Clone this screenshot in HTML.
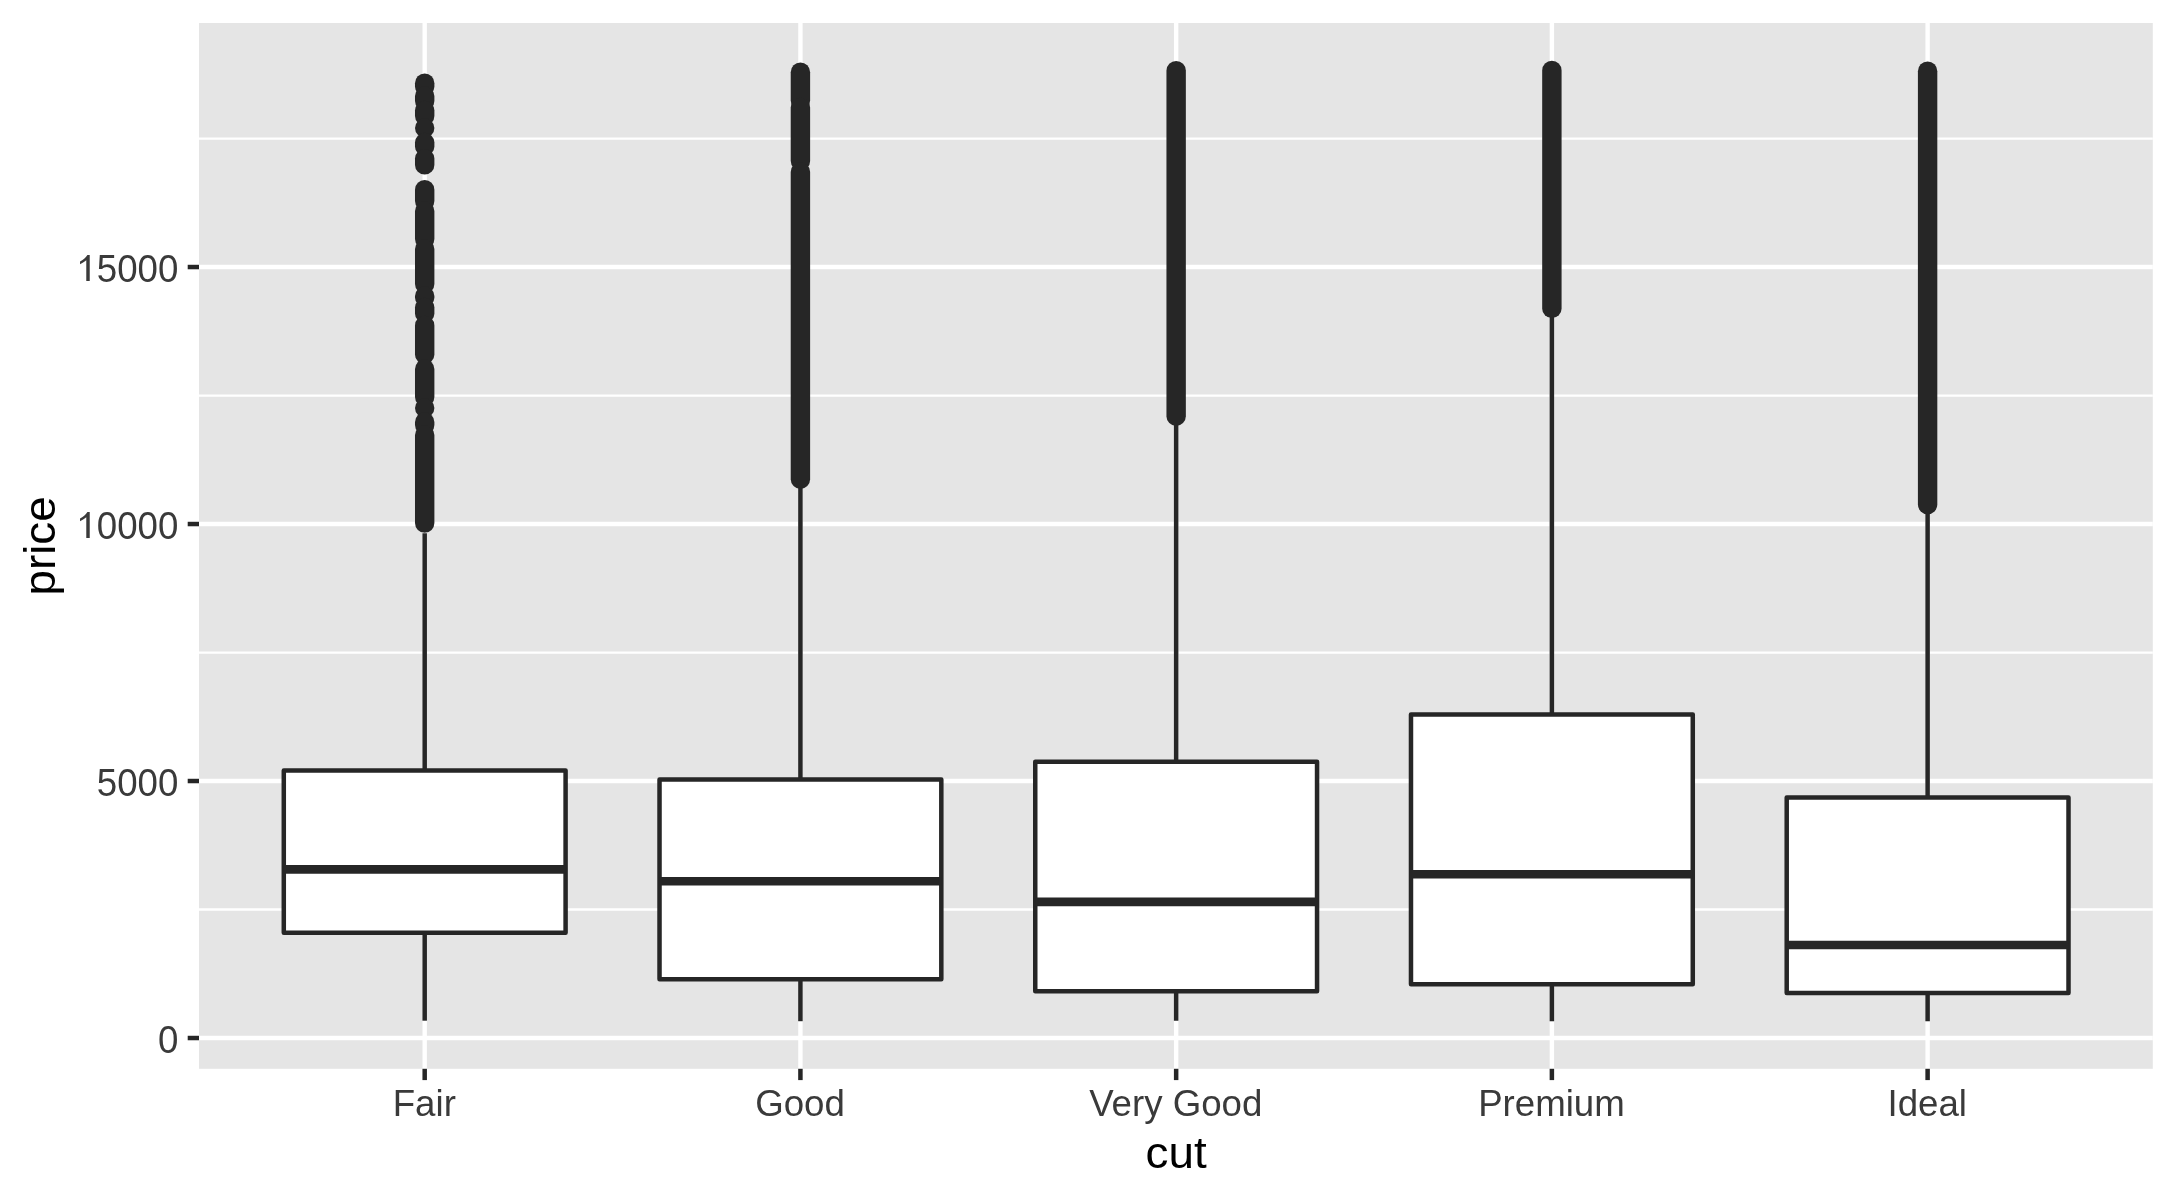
<!DOCTYPE html>
<html><head><meta charset="utf-8"><title>price by cut</title>
<style>
html,body{margin:0;padding:0;background:#fff;width:2175px;height:1200px;overflow:hidden}
svg{display:block;will-change:transform}
text{font-family:"Liberation Sans",sans-serif}
</style></head><body>
<svg width="2175" height="1200" viewBox="0 0 2175 1200">
<rect width="2175" height="1200" fill="#fff"/>
<rect x="199" y="23" width="1953.8" height="1045.8" fill="#E5E5E5"/>
<line x1="199" x2="2152.8" y1="909.52" y2="909.52" stroke="#fff" stroke-width="2.3"/>
<line x1="199" x2="2152.8" y1="652.53" y2="652.53" stroke="#fff" stroke-width="2.3"/>
<line x1="199" x2="2152.8" y1="395.53" y2="395.53" stroke="#fff" stroke-width="2.3"/>
<line x1="199" x2="2152.8" y1="138.54" y2="138.54" stroke="#fff" stroke-width="2.3"/>
<line x1="199" x2="2152.8" y1="1038.02" y2="1038.02" stroke="#fff" stroke-width="4.4"/>
<line x1="199" x2="2152.8" y1="781.02" y2="781.02" stroke="#fff" stroke-width="4.4"/>
<line x1="199" x2="2152.8" y1="524.03" y2="524.03" stroke="#fff" stroke-width="4.4"/>
<line x1="199" x2="2152.8" y1="267.03" y2="267.03" stroke="#fff" stroke-width="4.4"/>
<line x1="424.69" x2="424.69" y1="23" y2="1068.8" stroke="#fff" stroke-width="4.4"/>
<line x1="800.42" x2="800.42" y1="23" y2="1068.8" stroke="#fff" stroke-width="4.4"/>
<line x1="1176.15" x2="1176.15" y1="23" y2="1068.8" stroke="#fff" stroke-width="4.4"/>
<line x1="1551.88" x2="1551.88" y1="23" y2="1068.8" stroke="#fff" stroke-width="4.4"/>
<line x1="1927.61" x2="1927.61" y1="23" y2="1068.8" stroke="#fff" stroke-width="4.4"/>
<line x1="424.69" x2="424.69" y1="770.46" y2="533.13" stroke="#262626" stroke-width="4.5"/>
<line x1="424.69" x2="424.69" y1="932.64" y2="1020.7" stroke="#262626" stroke-width="4.5"/>
<rect x="283.79" y="770.46" width="281.8" height="162.18" fill="#fff" stroke="#262626" stroke-width="4.5" stroke-linejoin="round"/>
<line x1="283.79" x2="565.59" y1="869.33" y2="869.33" stroke="#262626" stroke-width="8.6"/>
<line x1="424.69" x2="424.69" y1="83.2" y2="86.5" stroke="#262626" stroke-width="19.4" stroke-linecap="round"/>
<line x1="424.69" x2="424.69" y1="96" y2="101" stroke="#262626" stroke-width="19.4" stroke-linecap="round"/>
<line x1="424.69" x2="424.69" y1="110.5" y2="116" stroke="#262626" stroke-width="19.4" stroke-linecap="round"/>
<circle cx="424.69" cy="128" r="9.7" fill="#262626"/>
<line x1="424.69" x2="424.69" y1="142.5" y2="146.5" stroke="#262626" stroke-width="19.4" stroke-linecap="round"/>
<line x1="424.69" x2="424.69" y1="158.6" y2="164.9" stroke="#262626" stroke-width="19.4" stroke-linecap="round"/>
<line x1="424.69" x2="424.69" y1="189.7" y2="201" stroke="#262626" stroke-width="19.4" stroke-linecap="round"/>
<line x1="424.69" x2="424.69" y1="211" y2="239" stroke="#262626" stroke-width="19.4" stroke-linecap="round"/>
<line x1="424.69" x2="424.69" y1="249" y2="284" stroke="#262626" stroke-width="19.4" stroke-linecap="round"/>
<line x1="424.69" x2="424.69" y1="296" y2="297.5" stroke="#262626" stroke-width="19.4" stroke-linecap="round"/>
<line x1="424.69" x2="424.69" y1="307.5" y2="313.4" stroke="#262626" stroke-width="19.4" stroke-linecap="round"/>
<line x1="424.69" x2="424.69" y1="325.4" y2="354.5" stroke="#262626" stroke-width="19.4" stroke-linecap="round"/>
<line x1="424.69" x2="424.69" y1="369" y2="397" stroke="#262626" stroke-width="19.4" stroke-linecap="round"/>
<circle cx="424.69" cy="408" r="9.7" fill="#262626"/>
<line x1="424.69" x2="424.69" y1="422" y2="425" stroke="#262626" stroke-width="19.4" stroke-linecap="round"/>
<line x1="424.69" x2="424.69" y1="435" y2="523.1" stroke="#262626" stroke-width="19.4" stroke-linecap="round"/>
<line x1="800.42" x2="800.42" y1="779.59" y2="480.29" stroke="#262626" stroke-width="4.5"/>
<line x1="800.42" x2="800.42" y1="979.17" y2="1021.21" stroke="#262626" stroke-width="4.5"/>
<rect x="659.52" y="779.59" width="281.8" height="199.58" fill="#fff" stroke="#262626" stroke-width="4.5" stroke-linejoin="round"/>
<line x1="659.52" x2="941.32" y1="881.23" y2="881.23" stroke="#262626" stroke-width="8.6"/>
<line x1="800.42" x2="800.42" y1="72.2" y2="100.5" stroke="#262626" stroke-width="19.4" stroke-linecap="round"/>
<line x1="800.42" x2="800.42" y1="107.5" y2="160.9" stroke="#262626" stroke-width="19.4" stroke-linecap="round"/>
<line x1="800.42" x2="800.42" y1="171.9" y2="479.2" stroke="#262626" stroke-width="19.4" stroke-linecap="round"/>
<line x1="1176.15" x2="1176.15" y1="761.87" y2="418.35" stroke="#262626" stroke-width="4.5"/>
<line x1="1176.15" x2="1176.15" y1="991.14" y2="1020.75" stroke="#262626" stroke-width="4.5"/>
<rect x="1035.25" y="761.87" width="281.8" height="229.28" fill="#fff" stroke="#262626" stroke-width="4.5" stroke-linejoin="round"/>
<line x1="1035.25" x2="1317.05" y1="901.92" y2="901.92" stroke="#262626" stroke-width="8.6"/>
<line x1="1176.15" x2="1176.15" y1="70.6" y2="416.2" stroke="#262626" stroke-width="19.4" stroke-linecap="round"/>
<line x1="1551.88" x2="1551.88" y1="714.41" y2="309.8" stroke="#262626" stroke-width="4.5"/>
<line x1="1551.88" x2="1551.88" y1="984.26" y2="1021.26" stroke="#262626" stroke-width="4.5"/>
<rect x="1410.98" y="714.41" width="281.8" height="269.84" fill="#fff" stroke="#262626" stroke-width="4.5" stroke-linejoin="round"/>
<line x1="1410.98" x2="1692.78" y1="874.31" y2="874.31" stroke="#262626" stroke-width="8.6"/>
<line x1="1551.88" x2="1551.88" y1="70.4" y2="308.4" stroke="#262626" stroke-width="19.4" stroke-linecap="round"/>
<line x1="1927.61" x2="1927.61" y1="797.55" y2="504.81" stroke="#262626" stroke-width="4.5"/>
<line x1="1927.61" x2="1927.61" y1="992.89" y2="1021.26" stroke="#262626" stroke-width="4.5"/>
<rect x="1786.71" y="797.55" width="281.8" height="195.34" fill="#fff" stroke="#262626" stroke-width="4.5" stroke-linejoin="round"/>
<line x1="1786.71" x2="2068.51" y1="944.99" y2="944.99" stroke="#262626" stroke-width="8.6"/>
<line x1="1927.61" x2="1927.61" y1="71.2" y2="504.6" stroke="#262626" stroke-width="19.4" stroke-linecap="round"/>
<line x1="187.7" x2="199" y1="1038.02" y2="1038.02" stroke="#262626" stroke-width="4.5"/>
<line x1="187.7" x2="199" y1="781.02" y2="781.02" stroke="#262626" stroke-width="4.5"/>
<line x1="187.7" x2="199" y1="524.03" y2="524.03" stroke="#262626" stroke-width="4.5"/>
<line x1="187.7" x2="199" y1="267.03" y2="267.03" stroke="#262626" stroke-width="4.5"/>
<line x1="424.69" x2="424.69" y1="1068.8" y2="1080.1" stroke="#262626" stroke-width="4.5"/>
<line x1="800.42" x2="800.42" y1="1068.8" y2="1080.1" stroke="#262626" stroke-width="4.5"/>
<line x1="1176.15" x2="1176.15" y1="1068.8" y2="1080.1" stroke="#262626" stroke-width="4.5"/>
<line x1="1551.88" x2="1551.88" y1="1068.8" y2="1080.1" stroke="#262626" stroke-width="4.5"/>
<line x1="1927.61" x2="1927.61" y1="1068.8" y2="1080.1" stroke="#262626" stroke-width="4.5"/>
<text transform="translate(0,1039.3) scale(1,1.05) translate(0,-1039.3)" x="178.4" y="1052.22" text-anchor="end" font-size="36.67" fill="#3A3A3A">0</text>
<text transform="translate(0,782.3) scale(1,1.05) translate(0,-782.3)" x="178.4" y="795.22" text-anchor="end" font-size="36.67" fill="#3A3A3A">5000</text>
<path transform="translate(76.43,537.93)" d="M13.3 0H9.85V-20.7C8.3 -19.3 6.0 -17.8 3.6 -16.8V-19.4C6.6 -20.8 9.2 -23.2 11.0 -25.95H13.3Z" fill="#3A3A3A"/>
<text transform="translate(0,525.31) scale(1,1.05) translate(0,-525.31)" x="178.4" y="538.23" text-anchor="end" font-size="36.67" fill="#3A3A3A">0000</text>
<path transform="translate(76.43,280.93)" d="M13.3 0H9.85V-20.7C8.3 -19.3 6.0 -17.8 3.6 -16.8V-19.4C6.6 -20.8 9.2 -23.2 11.0 -25.95H13.3Z" fill="#3A3A3A"/>
<text transform="translate(0,268.31) scale(1,1.05) translate(0,-268.31)" x="178.4" y="281.23" text-anchor="end" font-size="36.67" fill="#3A3A3A">5000</text>
<text x="424.29" y="1115.7" text-anchor="middle" font-size="36.67" fill="#3A3A3A">Fair</text>
<text x="800.02" y="1115.7" text-anchor="middle" font-size="36.67" fill="#3A3A3A">Good</text>
<text x="1175.75" y="1115.7" text-anchor="middle" font-size="36.67" fill="#3A3A3A">Very Good</text>
<text x="1551.48" y="1115.7" text-anchor="middle" font-size="36.67" fill="#3A3A3A">Premium</text>
<text x="1927.21" y="1115.7" text-anchor="middle" font-size="36.67" fill="#3A3A3A">Ideal</text>
<text transform="translate(1176.15,1167.7) scale(1,0.97)" x="0" y="0" text-anchor="middle" font-size="45.83" fill="#000">cut</text>
<text transform="translate(55.1,545.9) rotate(-90) scale(1,0.97)" x="0" y="0" text-anchor="middle" font-size="45.83" fill="#000">price</text>
</svg>
</body></html>
